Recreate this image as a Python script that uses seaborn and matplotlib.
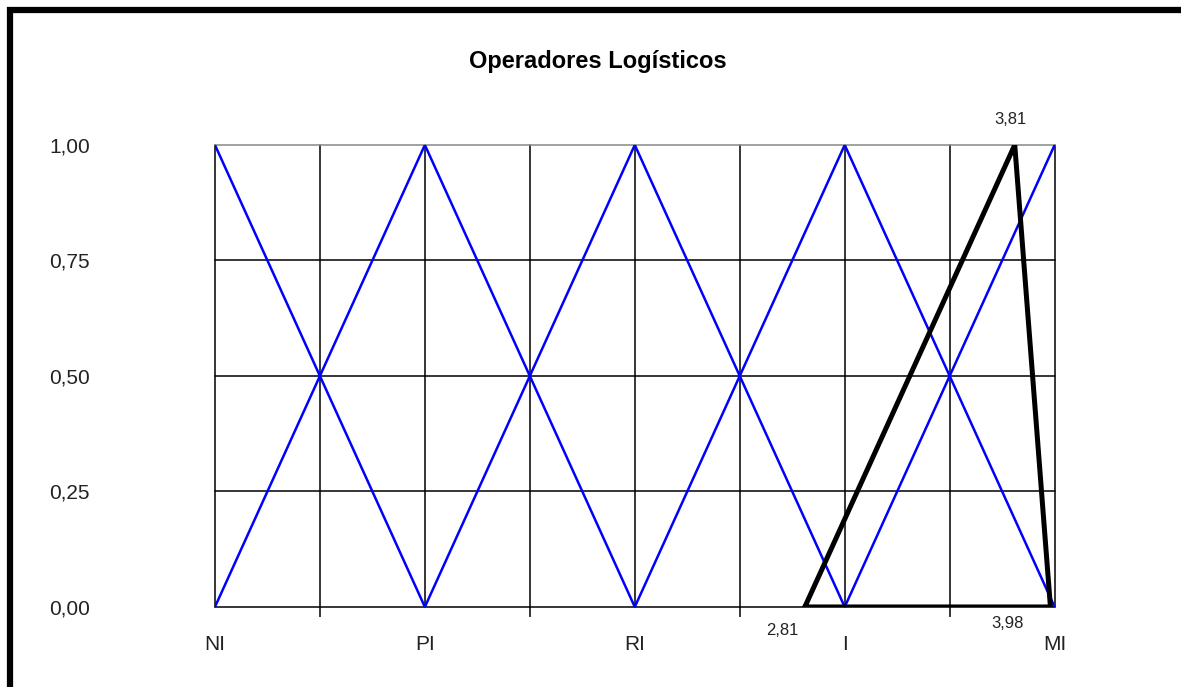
import pandas as pd
import seaborn as sns
import matplotlib.pyplot as plt
from matplotlib.lines import Line2D

# conjuntos fuzzy (triangulares) das categorias linguísticas
categorias = ['NI', 'PI', 'RI', 'I', 'MI']
posicoes = [0, 1, 2, 3, 4]
conj_x = {
    'NI': [0, 1],
    'PI': [0, 1, 2],
    'RI': [1, 2, 3],
    'I': [2, 3, 4],
    'MI': [3, 4],
}
conj_y = {
    'NI': [1, 0],
    'PI': [0, 1, 0],
    'RI': [0, 1, 0],
    'I': [0, 1, 0],
    'MI': [0, 1],
}

# número fuzzy do operador logístico
tri_x = [2.81, 3.81, 3.98, 2.81]
tri_y = [0, 1, 0, 0]
y_ticks = [0, 0.25, 0.5, 0.75, 1.0]
y_labels = ['0,00', '0,25', '0,50', '0,75', '1,00']

sns.set_style("white")
plt.rcParams['font.family'] = ['Liberation Sans', 'DejaVu Sans']

linhas = []
for c in categorias:
    for xv, yv in zip(conj_x[c], conj_y[c]):
        linhas.append({'conjunto': c, 'x': xv, 'y': yv})
df = pd.DataFrame(linhas)
df_tri = pd.DataFrame({'ordem': range(len(tri_x)), 'x': tri_x, 'y': tri_y})

fig = plt.figure(figsize=(11.81, 6.87), dpi=100)
ax = fig.add_axes([0.182, 0.1165, 0.711, 0.6725])

sns.lineplot(data=df, x='x', y='y', units='conjunto', estimator=None,
             sort=False, color='#0000ff', linewidth=1.8, ax=ax, zorder=3)
sns.lineplot(data=df_tri, x='x', y='y', estimator=None, sort=False,
             color='black', linewidth=3.6, ax=ax, zorder=5)

ax.set_xlim(0, 4)
ax.set_ylim(0, 1)
ax.set_xticks(posicoes)
ax.set_xticklabels(categorias)
ax.set_xticks([0.5, 1.5, 2.5, 3.5], minor=True)
ax.set_yticks(y_ticks)
ax.set_yticklabels(y_labels)
for v in [0, 0.5, 1, 1.5, 2, 2.5, 3, 3.5, 4]:
    ax.axvline(v, color='black', linewidth=1.1, zorder=1, clip_on=False)
for v in y_ticks:
    ax.axhline(v, color='black' if v < 1 else '#888888', linewidth=1.1,
               zorder=1, clip_on=False)
for s in ax.spines.values():
    s.set_visible(False)
ax.tick_params(axis='x', which='major', bottom=True, length=0, pad=20,
               labelsize=15, labelcolor='#222222')
ax.tick_params(axis='x', which='minor', bottom=True, length=7, width=1.1,
               color='black', direction='out')
ax.tick_params(axis='y', length=0, pad=90, labelsize=15, labelcolor='#222222')
ax.set_xlabel('')
ax.set_ylabel('')

ax.annotate('3,81', (3.81, 1), xytext=(-3, 18), textcoords='offset points',
            ha='center', va='center', fontsize=12, color='#222222')
ax.annotate('2,81', (2.81, 0), xytext=(-16, -17), textcoords='offset points',
            ha='center', va='center', fontsize=12, color='#222222')
ax.annotate('3,98', (3.98, 0), xytext=(-31, -12), textcoords='offset points',
            ha='center', va='center', fontsize=12, color='#222222')

fig.text(0.506, 0.91, 'Operadores Logísticos', ha='center', va='center',
         fontsize=17, fontweight='bold', color='black')

# moldura (borda superior e esquerda)
fig.add_artist(Line2D([7 / 1181, 1], [1 - 10 / 687, 1 - 10 / 687], color='black',
                      linewidth=4.5, solid_capstyle='butt', transform=fig.transFigure))
fig.add_artist(Line2D([10 / 1181, 10 / 1181], [0, 1 - 7 / 687], color='black',
                      linewidth=4.5, solid_capstyle='butt', transform=fig.transFigure))

fig.savefig('out.png', dpi=100)
